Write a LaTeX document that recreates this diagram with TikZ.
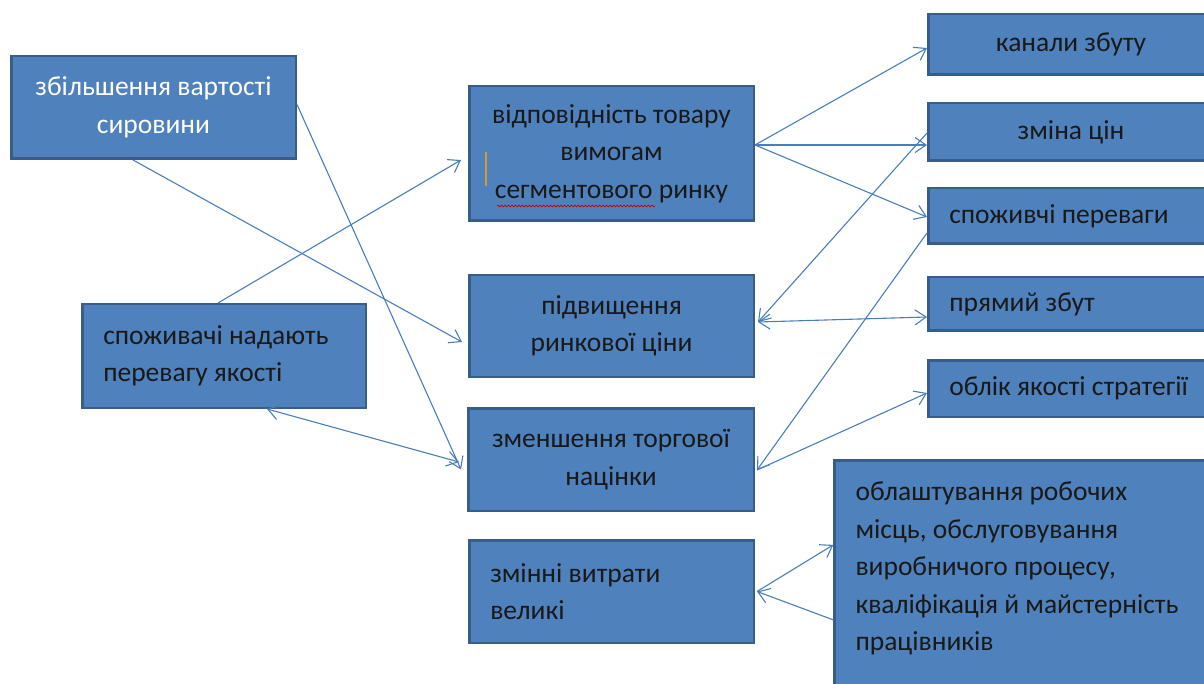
\documentclass[tikz,border=0pt]{standalone}
\usepackage{fontspec}
\setmainfont{Carlito}
\usetikzlibrary{arrows.meta,calc,decorations.pathmorphing}
\definecolor{boxfill}{HTML}{4F81BD}
\definecolor{boxline}{HTML}{385D8A}
\definecolor{arr}{HTML}{4A7EBB}
\definecolor{spellbar}{HTML}{D39A3C}
\begin{document}
\begin{tikzpicture}[x=1pt,y=-1pt,
  box/.style={draw=boxline, fill=boxfill, line width=2.5pt, inner sep=0pt,
    font=\fontsize{27.5}{37.5}\selectfont, text=black!90},
  cbox/.style={box, align=center},
  lbox/.style={box, align=flush left, inner xsep=21pt},
  conn/.style={draw=arr, line width=1.1pt, -{Straight Barb[length=11pt,width=15pt,line width=1.1pt]}},
  dconn/.style={conn, {Straight Barb[length=11pt,width=15pt,line width=1.1pt]}-{Straight Barb[length=11pt,width=15pt,line width=1.1pt]}},
]
\useasboundingbox (0,0) rectangle (1204,684);
\clip (0,0) rectangle (1204,684);

% left column
\node[cbox, text=white, minimum width=284.5pt, minimum height=102.5pt] (A) at (153.5,107.5) {збільшення вартості\\сировини};
\node[lbox, minimum width=283.5pt, minimum height=103.5pt, text width=241.5pt] (B) at (224,356) {споживачі надають\\перевагу якості};

% middle column
\node[cbox, minimum width=284.5pt, minimum height=134.5pt] (C) at (611.5,153.5) {відповідність товару\\вимогам\\сегментового ринку};
\node[cbox, minimum width=284.5pt, minimum height=101.5pt] (D) at (611.5,326) {підвищення\\ринкової ціни};
\node[cbox, minimum width=285.5pt, minimum height=102.5pt] (E) at (611,459.5) {зменшення торгової\\націнки};
\node[lbox, minimum width=284.5pt, minimum height=102.5pt, text width=242.5pt] (F) at (611.5,591.5) {змінні витрати\\великі};

% right column
\node[cbox, minimum width=285.5pt, minimum height=60.5pt] (G) at (1071,44.5) {канали збуту};
\node[cbox, minimum width=285.5pt, minimum height=57.5pt] (H) at (1071,132) {зміна цін};
\node[lbox, minimum width=285.5pt, minimum height=55.5pt, text width=243.5pt] (I) at (1071,216) {споживчі переваги};
\node[lbox, minimum width=285.5pt, minimum height=53.5pt, text width=243.5pt] (J) at (1071,304) {прямий збут};
\node[lbox, minimum width=285.5pt, minimum height=56.5pt, text width=243.5pt] (K) at (1071,388.5) {облік якості стратегії};
\node[lbox, minimum width=380.5pt, minimum height=239.5pt, text width=338.5pt, anchor=north west] (L) at (833.25,459.25) {\rule{0pt}{40pt}облаштування робочих\\місць, обслуговування\\виробничого процесу,\\кваліфікація й майстерність\\працівників\\[4pt]\strut};

% spell-check marks in C
\draw[spellbar, line width=2.5pt] (486,152) -- (486,186);
\draw[red!80!black, line width=0.7pt, decorate, decoration={snake, amplitude=0.9pt, segment length=3.5pt}] (497,206) -- (655,206);

% connectors
\draw[conn] ([xshift=-20.5pt]A.south) -- ([xshift=-6pt,yshift=-16pt]D.west);
\draw[conn] ([yshift=3pt]A.east) -- ([xshift=-6pt,yshift=-10pt]E.west);
\draw[conn] ([xshift=-6pt]B.north) -- ([xshift=-7pt,yshift=-6.5pt]C.west);
\draw[dconn] ([xshift=43pt]B.south) -- ([xshift=-8pt,yshift=-2.5pt]E.west);

\draw[conn] ([yshift=8.5pt]C.east) -- ([yshift=-3.5pt]G.west);
\draw[conn] ([yshift=8.5pt]C.east) -- ([yshift=-13pt]H.west);
\draw[conn] ([yshift=8.5pt]C.east) -- ([yshift=-1pt]I.west);

\draw[conn] ([yshift=-1pt]H.west) -- ([xshift=3pt,yshift=4pt]D.east);
\draw[dconn] ([xshift=3pt,yshift=4pt]D.east) -- ([yshift=-13pt]J.west);

\draw[conn] ([yshift=-17pt]I.west) -- ([xshift=2pt,yshift=-10.5pt]E.east);
\draw[conn] ([xshift=2pt,yshift=-10.5pt]E.east) -- ([yshift=-4.5pt]K.west);

\draw[conn] ([xshift=2pt]F.east) -- ([yshift=37pt]L.west);
\draw[conn] ([yshift=-38pt]L.west) -- ([xshift=2pt]F.east);
\end{tikzpicture}
\end{document}
